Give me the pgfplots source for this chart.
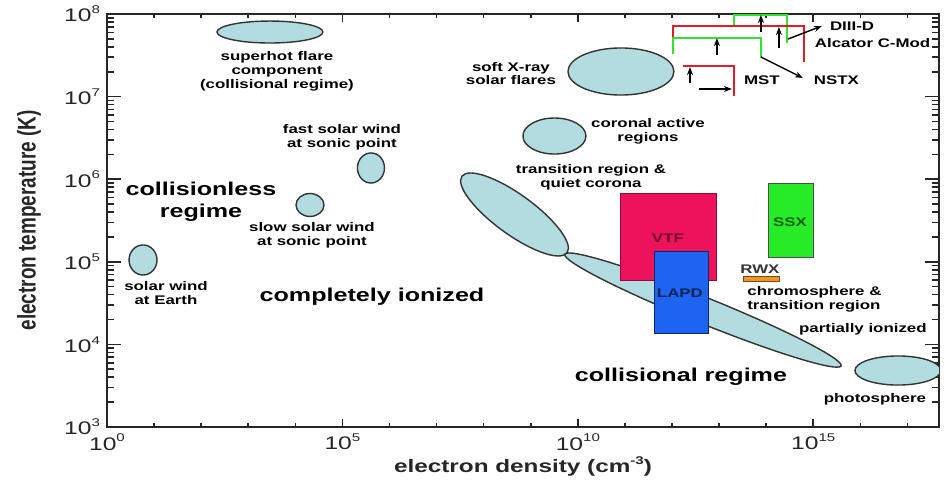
\documentclass[border=0pt]{standalone}
\usepackage{fontspec}
\setmainfont{Liberation Sans}[FakeStretch=1.35]
\newfontfamily\ylabfont{Liberation Sans}[FakeStretch=0.74]
\usepackage{pgfplots}
\pgfplotsset{compat=1.18}
\usetikzlibrary{arrows.meta}

\definecolor{ell}{RGB}{178,220,224}
\definecolor{vtf}{RGB}{236,18,92}
\definecolor{lapd}{RGB}{30,100,240}
\definecolor{ssx}{RGB}{40,235,40}
\definecolor{rwx}{RGB}{240,150,40}
\definecolor{brred}{RGB}{225,30,40}
\definecolor{brgreen}{RGB}{50,225,50}

\tikzset{
  ellf/.style={fill=ell, draw=black!80, line width=0.7pt},
  arr/.style={-{Stealth[length=4pt,width=3pt]}, black, line width=0.7pt},
}

\newcommand{\sm}{\fontsize{6.25}{6.9}\selectfont\bfseries}
\newcommand{\bg}{\fontsize{9.3}{11}\selectfont\bfseries}
\newcommand{\sups}[1]{\raisebox{0.85ex}{\fontsize{5.6}{6}\selectfont #1}}

\begin{document}
\begin{tikzpicture}
\useasboundingbox (-53.5pt,-26pt) rectangle (420pt,213.5pt);
\begin{axis}[
  scale only axis, width=416pt, height=206.5pt,
  xmin=0, xmax=17.67, ymin=3, ymax=8,
  xtick={0,5,10,15},
  xticklabels={10\sups{0},10\sups{5},10\sups{10},10\sups{15}},
  minor xtick={1,2,3,4,6,7,8,9,11,12,13,14,16,17},
  ytick={3,4,5,6,7,8},
  yticklabels={10\sups{3},10\sups{4},10\sups{5},10\sups{6},10\sups{7},10\sups{8}},
  minor ytick={3.301,3.477,3.602,3.699,3.778,3.845,3.903,3.954,
               4.301,4.477,4.602,4.699,4.778,4.845,4.903,4.954,
               5.301,5.477,5.602,5.699,5.778,5.845,5.903,5.954,
               6.301,6.477,6.602,6.699,6.778,6.845,6.903,6.954,
               7.301,7.477,7.602,7.699,7.778,7.845,7.903,7.954},
  tick label style={font=\fontsize{9.1}{10}\selectfont, black!85},
  axis line style={line width=1pt, black!85},
  tick style={black!85, line width=0.8pt},
  major tick length=7pt, minor tick length=3.5pt,
  xtick style={/pgfplots/major tick length=4pt,/pgfplots/minor tick length=2pt},
  xlabel={\fontsize{9}{10}\selectfont\bfseries electron density (cm\sups{-3})},
  ylabel={\ylabfont\fontsize{12.8}{14}\selectfont\bfseries electron temperature (K)},
  xlabel style={at={(axis description cs:0.5,0)}, anchor=center, yshift=-19.5pt, black!85},
  ylabel style={at={(axis description cs:-0.0938,0.5)}, anchor=center, black!85},
]
% plasma regions (ellipses), centre in log10 units
\draw[ellf] (axis cs:3.461,7.782) ellipse [x radius=1.125, y radius=0.133];
\draw[ellf] (axis cs:10.915,7.304) ellipse [x radius=1.125, y radius=0.285];
\draw[ellf] (axis cs:9.503,6.523) ellipse [x radius=0.669, y radius=0.218];
\draw[ellf] (axis cs:5.606,6.136) ellipse [x radius=0.287, y radius=0.182];
\draw[ellf] (axis cs:4.311,5.688) ellipse [x radius=0.297, y radius=0.139];
\draw[ellf] (axis cs:0.765,5.022) ellipse [x radius=0.297, y radius=0.182];
\draw[ellf] (axis cs:16.798,3.684) ellipse [x radius=0.913, y radius=0.176];
\draw[ellf] (axis cs:12.657,4.416) ellipse [x radius=74.5pt, y radius=6.5pt, rotate=-22];
\draw[ellf] (axis cs:8.654,5.573) ellipse [x radius=32.5pt, y radius=10pt, rotate=-36];

% laboratory experiments
\addplot[fill=vtf, draw=vtf!60!black, line width=0.5pt] coordinates {(10.915,4.768) (12.954,4.768) (12.954,5.821) (10.915,5.821)} -- cycle;
\addplot[fill=lapd, draw=lapd!40!black, line width=0.5pt] coordinates {(11.637,4.138) (12.784,4.138) (12.784,5.119) (11.637,5.119)} -- cycle;
\addplot[fill=ssx, draw=black!70, line width=0.5pt] coordinates {(14.058,5.058) (15.014,5.058) (15.014,5.954) (14.058,5.954)} -- cycle;
\addplot[fill=rwx, draw=rwx!50!black, line width=0.4pt] coordinates {(13.506,4.767) (14.271,4.767) (14.271,4.828) (13.506,4.828)} -- cycle;

% fusion devices brackets
\addplot[brgreen, line width=1.2pt] coordinates {(13.315,7.855) (13.315,7.985) (14.440,7.985) (14.440,7.649)};
\addplot[brred, line width=1.2pt] coordinates {(12.020,7.722) (12.020,7.855) (14.801,7.855) (14.801,7.419)};
\addplot[brgreen, line width=1.2pt] coordinates {(12.020,7.516) (12.020,7.709) (13.888,7.709) (13.888,7.467)};
\addplot[brred, line width=1.2pt] coordinates {(12.232,7.370) (13.315,7.370) (13.315,7.007)};

% arrows
\addplot[arr] coordinates {(13.888,7.782) (13.888,7.988)};
\addplot[arr] coordinates {(14.271,7.588) (14.271,7.843)};
\addplot[arr] coordinates {(12.954,7.504) (12.954,7.709)};
\addplot[arr] coordinates {(12.381,7.165) (12.381,7.358)};
\addplot[arr] coordinates {(12.572,7.092) (13.272,7.092)};
\addplot[arr] coordinates {(14.462,7.697) (15.184,7.855)};
\addplot[arr] coordinates {(13.888,7.479) (14.780,7.225)};

% labels
\node[font=\sm, anchor=west] at (axis cs:15.205,7.855) {DIII-D};
\node[font=\sm, anchor=west] at (axis cs:14.886,7.649) {Alcator C-Mod};
\node[font=\sm, anchor=west] at (axis cs:14.865,7.201) {NSTX};
\node[font=\sm, anchor=west] at (axis cs:13.379,7.201) {MST};

\node[font=\sm, align=center] at (axis cs:3.610,7.310) {superhot flare\\component\\(collisional regime)};
\node[font=\sm, align=center] at (axis cs:8.579,7.280) {soft X-ray\\solar flares};
\node[font=\sm, align=center] at (axis cs:11.489,6.577) {coronal active\\regions};
\node[font=\sm, align=center] at (axis cs:10.278,6.021) {transition region \&\\quiet corona};
\node[font=\sm, align=center] at (axis cs:4.990,6.511) {fast solar wind\\at sonic point};
\node[font=\sm, align=center] at (axis cs:4.353,5.324) {slow solar wind\\at sonic point};
\node[font=\sm, align=center] at (axis cs:1.253,4.622) {solar wind\\at Earth};
\node[font=\sm, align=left, anchor=west] at (axis cs:13.45,4.550) {chromosphere \&\\transition region};
\node[font=\sm] at (axis cs:16.054,4.186) {partially ionized};
\node[font=\sm] at (axis cs:16.309,3.339) {photosphere};
\node[font=\sm, text=black!80] at (axis cs:13.867,4.913) {RWX};
\node[font=\sm, text=vtf!45!black] at (axis cs:11.913,5.288) {VTF};
\node[font=\sm, text=lapd!35!black] at (axis cs:12.168,4.622) {LAPD};
\node[font=\sm, text=ssx!40!black] at (axis cs:14.504,5.482) {SSX};

\node[font=\bg, align=center] at (axis cs:1.996,5.724) {collisionless\\regime};
\node[font=\bg] at (axis cs:5.628,4.574) {completely ionized};
\node[font=\bg] at (axis cs:12.19,3.605) {collisional regime};
\end{axis}
\end{tikzpicture}
\end{document}
